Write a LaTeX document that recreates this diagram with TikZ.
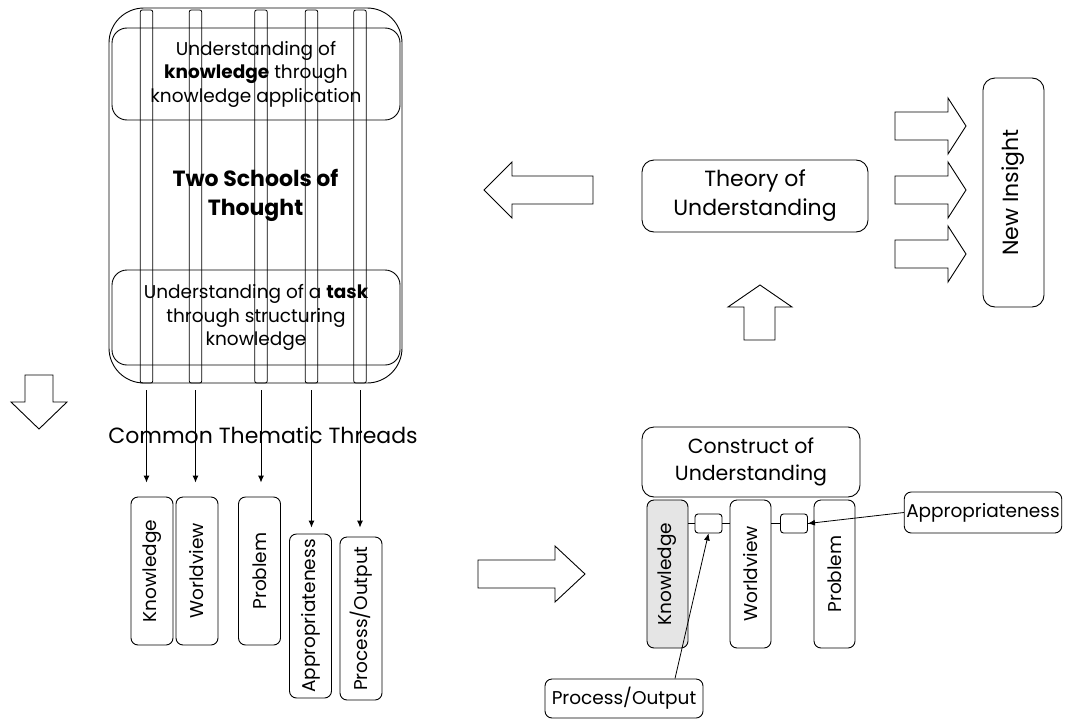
\documentclass[tikz,border=0pt]{standalone}
\usepackage{fontspec}
\setmainfont{Poppins}
\usepackage{tikz}
\usetikzlibrary{arrows.meta}
\newcommand{\labelfont}{\fontsize{18.5}{23.5}\selectfont}
\newcommand{\midfont}{\fontsize{20.5}{27}\selectfont}
\newcommand{\bigfont}{\fontsize{22}{29}\selectfont}
\tikzset{
  roundbox/.style={
    draw, rounded corners=#1, line width=0.9pt,
    align=center, inner sep=2pt, font=\labelfont
  },
  roundbox/.default=9pt,
  threadstrip/.style={
    draw, rounded corners=2pt, line width=0.8pt,
    minimum width=12.5pt, minimum height=373pt, inner sep=0pt
  },
  pillar/.style={
    roundbox=7pt, minimum width=#1, minimum height=42pt
  },
  pillar/.default=148pt,
  linkbox/.style={
    draw, rounded corners=3pt, line width=0.9pt,
    minimum width=27pt, minimum height=19pt, inner sep=0pt
  },
  threadarrow/.style={
    -{Latex[length=7pt,width=6pt]}, line width=0.9pt
  },
  pointer/.style={
    -{Latex[length=7pt,width=6pt]}, line width=0.8pt
  },
  blockarrow/.style={
    draw, line width=0.9pt, fill=white
  },
}

\begin{document}
\begin{tikzpicture}[x=1pt,y=-1pt]
  \useasboundingbox (0,0) rectangle (1089,720);

  % Two schools of thought
  \node[roundbox=35pt, minimum width=293pt, minimum height=375pt,
        font=\bigfont\bfseries] (schools) at (255.5,195.5)
        {Two Schools of\\Thought};
  \node[roundbox=15pt, minimum width=288pt, minimum height=92pt] (knowschool)
        at (256,74)
        {Understanding of\\\textbf{knowledge} through\\knowledge application};
  \node[roundbox=15pt, minimum width=288pt, minimum height=95pt] (taskschool)
        at (256,317.5)
        {Understanding of a \textbf{task}\\through structuring\\knowledge};

  % Thread strips running through both schools
  \node[threadstrip] (s1) at (146.5,196.5) {};
  \node[threadstrip] (s2) at (195.5,196.5) {};
  \node[threadstrip] (s3) at (261,196.5) {};
  \node[threadstrip] (s4) at (311.5,196.5) {};
  \node[threadstrip] (s5) at (360,196.5) {};

  \node[font=\bigfont] (threads) at (263,435) {Common Thematic Threads};

  % Common thematic threads
  \node[pillar, rotate=90] (knowT) at (152,571) {Knowledge};
  \node[pillar, rotate=90] (worldT) at (197,571) {Worldview};
  \node[pillar, rotate=90] (probT) at (259.5,571) {Problem};
  \node[pillar=164pt, rotate=90] (approT) at (310.5,616) {Appropriateness};
  \node[pillar=163pt, rotate=90] (procT) at (361,618.5) {Process/Output};

  \draw[threadarrow, shorten <=7pt, shorten >=14pt] (s1.south) -- (s1.south |- knowT.east);
  \draw[threadarrow, shorten <=7pt, shorten >=14pt] (s2.south) -- (s2.south |- worldT.east);
  \draw[threadarrow, shorten <=7pt, shorten >=14pt] (s3.south) -- (s3.south |- probT.east);
  \draw[threadarrow, shorten <=7pt, shorten >=6pt] (s4.south) -- (s4.south |- approT.east);
  \draw[threadarrow, shorten <=7pt, shorten >=9pt] (s5.south) -- (s5.south |- procT.east);

  % Construct of understanding
  \node[roundbox=12pt, minimum width=218pt, minimum height=70pt, font=\midfont]
        (construct) at (751,462) {Construct of\\Understanding};
  \node[pillar, minimum height=41pt, fill=black!10, rotate=90] (knowC) at (667.5,574) {Knowledge};
  \node[pillar, minimum height=41pt, rotate=90] (worldC) at (750.5,574) {Worldview};
  \node[pillar, minimum height=41pt, rotate=90] (probC) at (834.5,574) {Problem};
  \node[linkbox] (link1) at (708.5,523.5) {};
  \node[linkbox] (link2) at (794,523.5) {};
  \draw[line width=0.8pt] (knowC.south |- link1.west) -- (link1.west);
  \draw[line width=0.8pt] (link1.east) -- (worldC.north |- link1.east);
  \draw[line width=0.8pt] (worldC.south |- link2.west) -- (link2.west);
  \draw[line width=0.8pt] (link2.east) -- (probC.north |- link2.east);

  \node[roundbox=7pt, minimum width=156pt, minimum height=41pt] (apprC)
        at (983,512.5) {Appropriateness};
  \node[roundbox=7pt, minimum width=158pt, minimum height=39pt] (procC)
        at (624,698.5) {Process/Output};
  \draw[pointer] (apprC.west) -- (link2.east);
  \draw[pointer] ([xshift=51pt]procC.north) -- (link1.south);

  % Theory and new insight
  \node[roundbox=12pt, minimum width=226pt, minimum height=72pt, font=\bigfont]
        (theory) at (755,196) {Theory of\\Understanding};
  \node[roundbox=12pt, minimum width=61pt, minimum height=229pt] (insight)
        at (1013.5,192.5) {};
  \node[font=\bigfont, rotate=90] at (insight.center) {New Insight};

  % Block arrows
  \draw[blockarrow] (25,375) -- (53,375) -- (53,402) -- (67,402) -- (39,429)
    -- (11,402) -- (25,402) -- cycle;
  \draw[blockarrow] (484,190) -- (512,162) -- (512,176) -- (593,176) -- (593,204)
    -- (512,204) -- (512,218) -- cycle;
  \draw[blockarrow] (478,560) -- (555,560) -- (555,546) -- (585,574) -- (555,602)
    -- (555,588) -- (478,588) -- cycle;
  \draw[blockarrow] (760,285) -- (792,307) -- (775,307) -- (775,340) -- (744,340)
    -- (744,307) -- (728,307) -- cycle;
  \draw[blockarrow] (895,112) -- (948,112) -- (948,98) -- (966,126) -- (948,154)
    -- (948,140) -- (895,140) -- cycle;
  \draw[blockarrow] (895,176) -- (948,176) -- (948,162) -- (966,190) -- (948,218)
    -- (948,204) -- (895,204) -- cycle;
  \draw[blockarrow] (895,240) -- (948,240) -- (948,226) -- (966,254) -- (948,282)
    -- (948,268) -- (895,268) -- cycle;
\end{tikzpicture}
\end{document}
